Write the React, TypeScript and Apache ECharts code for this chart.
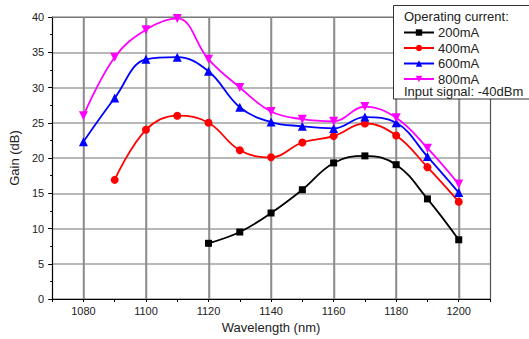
import React, { useEffect, useRef } from "react";
import * as echarts from "echarts";

const wavelengths = [1080, 1090, 1100, 1110, 1120, 1130, 1140, 1150, 1160, 1170, 1180, 1190, 1200];
const gain200 = [null, null, null, null, 7.9, 9.5, 12.2, 15.5, 19.3, 20.3, 19.05, 14.2, 8.4];
const gain400 = [null, 16.9, 24.0, 26.0, 25.0, 21.1, 20.1, 22.2, 23.1, 24.9, 23.2, 18.7, 13.8];
const gain600 = [22.3, 28.5, 34.0, 34.3, 32.3, 27.2, 25.1, 24.5, 24.2, 25.8, 25.0, 20.2, 15.1];
const gain800 = [26.0, 34.3, 38.2, 39.8, 34.0, 30.0, 26.6, 25.5, 25.2, 27.3, 25.7, 21.4, 16.3];
const seriesNames = ["200mA", "400mA", "600mA", "800mA"];
const verticalGrid = [1080, 1100, 1120, 1140, 1160, 1180, 1200];
const yRange = [0, 40];
const legendTitle = "Operating current:";
const legendFooter = "Input signal: -40dBm";

const FONT = "'Liberation Sans', Arial, sans-serif";

function pairs(values: (number | null)[]) {
  const out: number[][] = [];
  values.forEach((v, i) => {
    if (v !== null) out.push([wavelengths[i], v]);
  });
  return out;
}

export default function App() {
  const ref = useRef<HTMLDivElement>(null);
  useEffect(() => {
    if (!ref.current) return;
    const chart = echarts.init(ref.current, null, { renderer: "svg" });
    const colors = ["#000000", "#ff0000", "#0000ff", "#ff00ff"];
    const symbols = ["rect", "circle", "triangle", "triangle"];
    const rotates = [0, 0, 0, 180];
    const sizes = [7, 8, 9, 9];
    const data = [gain200, gain400, gain600, gain800];
    const series: any[] = [
      {
        type: "custom",
        silent: true,
        z: 1,
        clip: false,
        encode: { x: 0, y: 1 },
        data: verticalGrid.map((v) => [v, yRange[1]]),
        renderItem: (_params: any, api: any) => {
          const x = api.value(0);
          const p0 = api.coord([x, yRange[0]]);
          const p1 = api.coord([x, yRange[1]]);
          const px = Math.round(p0[0]) + 0.5;
          return {
            type: "line",
            shape: { x1: px, y1: p0[1], x2: px, y2: p1[1] },
            style: { stroke: "#8c8c8c", lineWidth: 1.5, fill: null },
          };
        },
      },
    ];
    data.forEach((d, i) =>
      series.push({
        name: seriesNames[i],
        type: "line",
        data: pairs(d),
        smooth: 0.4,
        symbol: symbols[i],
        symbolRotate: rotates[i],
        symbolSize: sizes[i],
        showAllSymbol: true,
        z: 3,
        itemStyle: { color: colors[i] },
        lineStyle: { color: colors[i], width: 1.8 },
      })
    );
    const axisFont = { fontSize: 11, color: "#222", fontFamily: FONT };
    chart.setOption({
      animation: false,
      backgroundColor: "#ffffff",
      textStyle: { fontFamily: FONT },
      grid: {
        left: 51,
        top: 17,
        right: 39,
        bottom: 40,
        show: false,
      },
      xAxis: [
        {
          type: "value",
          min: 1070,
          max: 1210,
          interval: 10,
          name: "Wavelength (nm)",
          nameLocation: "middle",
          nameGap: 22,
          nameTextStyle: { fontSize: 13, color: "#222", fontFamily: FONT },
          axisLine: { show: true, lineStyle: { color: "#000", width: 1.2 } },
          axisTick: { show: true, length: 3, lineStyle: { color: "#000" } },
          axisLabel: {
            ...axisFont,
            margin: 6,
            formatter: (v: number) => (v % 20 === 0 ? String(v) : ""),
          },
          splitLine: {
            show: true,
            lineStyle: { color: ["rgba(255,255,255,0)", "#8c8c8c"], width: 1.5 },
          },
        },
        {
          type: "value",
          position: "top",
          min: 1070,
          max: 1210,
          interval: 10,
          axisLine: { show: true, onZero: false, lineStyle: { color: "#777", width: 1 } },
          axisTick: { show: false },
          axisLabel: { show: false },
          splitLine: { show: false },
        },
      ],
      yAxis: [
        {
          type: "value",
          min: yRange[0],
          max: yRange[1],
          interval: 5,
          name: "Gain (dB)",
          nameLocation: "middle",
          nameGap: 26,
          nameTextStyle: { fontSize: 13, color: "#222", fontFamily: FONT },
          axisLine: { show: true, lineStyle: { color: "#000", width: 1.2 } },
          axisTick: { show: true, length: 4, lineStyle: { color: "#000" } },
          minorTick: { show: true, splitNumber: 2, length: 2, lineStyle: { color: "#000" } },
          axisLabel: { ...axisFont, margin: 8 },
          splitLine: { show: true, lineStyle: { color: "#a0a0a0", width: 1.5 } },
        },
        {
          type: "value",
          position: "right",
          min: yRange[0],
          max: yRange[1],
          interval: 5,
          axisLine: { show: true, onZero: false, lineStyle: { color: "#555", width: 1.2 } },
          axisTick: { show: false },
          axisLabel: { show: false },
          splitLine: { show: false },
        },
      ],
      legend: {
        data: seriesNames,
        orient: "vertical",
        left: 403,
        top: 26,
        itemWidth: 30,
        itemHeight: 8,
        itemGap: 2.5,
        z: 6,
        padding: 0,
        textStyle: { fontSize: 13, color: "#222", fontFamily: FONT, padding: [0, 0, 0, -1] },
      },
      graphic: [
        {
          type: "rect",
          z: 4,
          shape: { x: 393.5, y: 5.5, width: 150, height: 93.5 },
          style: { fill: "#ffffff", stroke: "#333333", lineWidth: 1 },
          silent: true,
        },
        {
          type: "text",
          z: 7,
          left: 404,
          top: 10,
          style: { text: legendTitle, fontSize: 13, fill: "#222", fontFamily: FONT },
        },
        {
          type: "text",
          z: 7,
          left: 404,
          top: 84.5,
          style: { text: legendFooter, fontSize: 13, lineHeight: 13, fill: "#222", fontFamily: FONT },
        },
      ],
      series,
    });
    return () => chart.dispose();
  }, []);
  return (
    <div
      ref={ref}
      style={{ position: "fixed", left: 0, top: 0, width: 529, height: 339, background: "#fff" }}
    />
  );
}
